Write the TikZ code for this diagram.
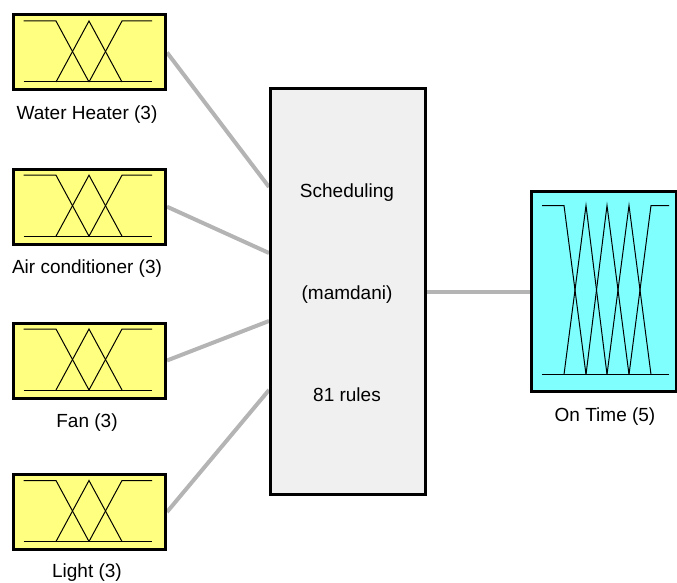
\documentclass[tikz,border=0pt]{standalone}
\usepackage{fontspec}
\setmainfont{Liberation Sans}
\usetikzlibrary{backgrounds}
\definecolor{inyellow}{HTML}{FFFF80}
\definecolor{outcyan}{HTML}{80FFFF}
\definecolor{fisgray}{HTML}{F0F0F0}
\definecolor{linkgray}{HTML}{B4B4B4}
\tikzset{
  inbox/.style={draw=black, line width=3pt, fill=inyellow, minimum width=152pt, minimum height=75pt, inner sep=0pt},
  fisbox/.style={draw=black, line width=3pt, fill=fisgray, minimum width=155pt, minimum height=406pt, inner sep=0pt},
  outbox/.style={draw=black, line width=3pt, fill=outcyan, minimum width=145pt, minimum height=200pt, inner sep=0pt},
  lbl/.style={font=\fontsize{19}{22}\selectfont, text=black, inner sep=0pt},
  link/.style={draw=linkgray, line width=4pt},
  mf/.style={draw=black, line width=1pt, line join=miter},
}
\newcommand{\mfthree}[1]{%
  \begin{scope}[shift={(#1.north west)}]
    \draw[mf] (11.5,68.5) -- (140,68.5);
    \draw[mf] (11.5,7.5) -- (44,7.5) -- (77,68.5);
    \draw[mf] (44,68.5) -- (77,7.5) -- (110,68.5);
    \draw[mf] (77,68.5) -- (110,7.5) -- (140,7.5);
  \end{scope}}
\begin{document}
\begin{tikzpicture}[x=1pt,y=-1pt]
\useasboundingbox (0,0) rectangle (677,583);
% input boxes
\node[inbox] (wh) at (89.5,52.5) {};
\node[inbox] (ac) at (89.5,206.7) {};
\node[inbox] (fan) at (89.5,360.5) {};
\node[inbox] (light) at (89.5,512) {};
\mfthree{wh}
\mfthree{ac}
\mfthree{fan}
\mfthree{light}
\node[lbl] (whl) at (87,115) {Water Heater (3)};
\node[lbl] (acl) at (87,269) {Air conditioner (3)};
\node[lbl] (fanl) at (87,423) {Fan (3)};
\node[lbl] (lightl) at (87,573) {Light (3)};
% FIS box
\node[fisbox] (fis) at (348,291.5) {};
\node[lbl] (t1) at (347,193) {Scheduling};
\node[lbl] (t2) at (347,295) {(mamdani)};
\node[lbl] (t3) at (347,395) {81 rules};
% output box
\node[outbox] (out) at (603.5,291.5) {};
\begin{scope}[shift={(out.north west)}]
  \draw[mf] (12.5,184.5) -- (139.5,184.5);
  \draw[mf] (12.5,15.5) -- (34.5,15.5) -- (56.5,184.5);
  \draw[mf] (34.5,184.5) -- (56.5,15.5) -- (77.5,184.5);
  \draw[mf] (56.5,184.5) -- (77.5,15.5) -- (99.5,184.5);
  \draw[mf] (77.5,184.5) -- (99.5,15.5) -- (121.5,184.5);
  \draw[mf] (99.5,184.5) -- (121.5,15.5) -- (139.5,15.5);
\end{scope}
\node[lbl] (outl) at (605,417) {On Time (5)};
% connector end points on the FIS box
\coordinate (in1) at (fis.west |- 0,187);
\coordinate (in2) at (fis.west |- 0,253);
\coordinate (in3) at (fis.west |- 0,321);
\coordinate (in4) at (fis.west |- 0,390);
\begin{scope}[on background layer]
  \draw[link] (wh.east) -- (in1);
  \draw[link] (ac.east) -- (in2);
  \draw[link] (fan.east) -- (in3);
  \draw[link] (light.east) -- (in4);
  \draw[link] (fis.east) -- (out.west);
\end{scope}
\end{tikzpicture}
\end{document}
